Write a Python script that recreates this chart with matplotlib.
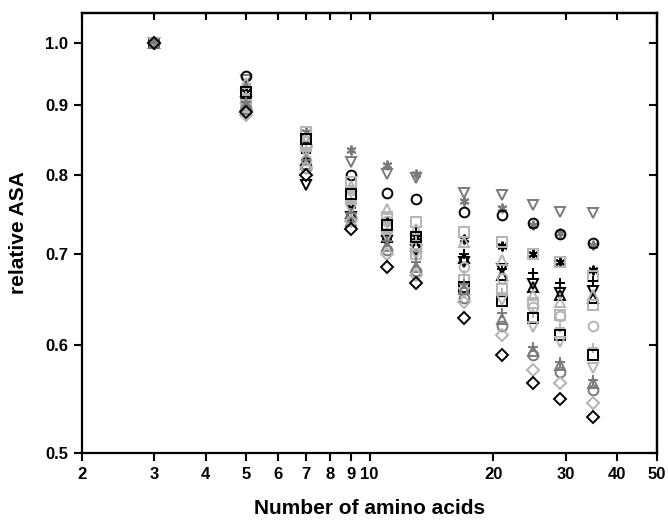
import matplotlib.pyplot as plt
import numpy as np
from matplotlib.ticker import FixedLocator, NullLocator, FixedFormatter

plt.rcParams['font.family'] = ['Liberation Sans', 'DejaVu Sans']

# peptide lengths
n_aa = [3, 5, 7, 9, 11, 13, 17, 21, 25, 29, 35]

black = '#000000'
dark = '#7a7a7a'
light = '#b4b4b4'
asterisk = (6, 2, 0)

# (marker, colour, relative ASA values at each length)
series = [
    ('v', dark,  [1.0, 0.940, 0.850, 0.818, 0.802, 0.796, 0.776, 0.773, 0.760, 0.751, 0.750]),
    (asterisk, dark, [1.0, 0.930, 0.860, 0.834, 0.813, 0.802, 0.765, 0.757, 0.735, 0.725, 0.711]),
    ('o', black, [1.0, 0.945, 0.840, 0.800, 0.776, 0.768, 0.751, 0.748, 0.738, 0.724, 0.713]),
    (asterisk, black, [1.0, 0.920, 0.820, 0.760, 0.740, 0.720, 0.718, 0.710, 0.700, 0.690, 0.681]),
    ('s', light, [1.0, 0.910, 0.860, 0.790, 0.745, 0.739, 0.726, 0.714, 0.700, 0.690, 0.674]),
    ('+', black, [1.0, 0.910, 0.830, 0.760, 0.725, 0.726, 0.700, 0.683, 0.678, 0.666, 0.669]),
    ('^', black, [1.0, 0.900, 0.820, 0.750, 0.720, 0.710, 0.695, 0.676, 0.662, 0.653, 0.650]),
    ('v', black, [1.0, 0.905, 0.787, 0.745, 0.715, 0.705, 0.690, 0.683, 0.665, 0.655, 0.657]),
    ('^', light, [1.0, 0.935, 0.850, 0.785, 0.755, 0.730, 0.714, 0.693, 0.653, 0.645, 0.653]),
    ('o', light, [1.0, 0.895, 0.820, 0.780, 0.740, 0.710, 0.685, 0.672, 0.640, 0.630, 0.620]),
    ('s', light, [1.0, 0.900, 0.840, 0.770, 0.730, 0.700, 0.670, 0.660, 0.644, 0.631, 0.642]),
    ('+', light, [1.0, 0.915, 0.835, 0.765, 0.730, 0.715, 0.676, 0.655, 0.634, 0.618, 0.597]),
    ('s', black, [1.0, 0.920, 0.850, 0.775, 0.735, 0.720, 0.662, 0.646, 0.628, 0.610, 0.590]),
    ('v', light, [1.0, 0.895, 0.830, 0.755, 0.720, 0.700, 0.655, 0.648, 0.619, 0.603, 0.577]),
    ('+', dark,  [1.0, 0.905, 0.820, 0.750, 0.715, 0.690, 0.665, 0.633, 0.598, 0.583, 0.566]),
    ('^', dark,  [1.0, 0.900, 0.815, 0.740, 0.710, 0.685, 0.660, 0.627, 0.594, 0.580, 0.563]),
    ('o', dark,  [1.0, 0.895, 0.810, 0.745, 0.705, 0.680, 0.650, 0.620, 0.590, 0.573, 0.556]),
    ('D', light, [1.0, 0.885, 0.810, 0.740, 0.700, 0.675, 0.645, 0.610, 0.575, 0.563, 0.544]),
    ('D', black, [1.0, 0.890, 0.800, 0.730, 0.685, 0.666, 0.628, 0.590, 0.563, 0.548, 0.531]),
]

x_ticks = [2, 3, 4, 5, 6, 7, 8, 9, 10, 20, 30, 40, 50]
y_ticks = [0.5, 0.6, 0.7, 0.8, 0.9, 1.0]

fig = plt.figure(figsize=(6.68, 5.21), dpi=100)
ax = fig.add_axes([0.1228, 0.1305, 0.8607, 0.8445])

for marker, color, vals in series:
    ms = 6 if marker == 'D' else 7
    ax.plot(n_aa, vals, linestyle='none', marker=marker, markersize=ms,
            markerfacecolor='none', markeredgecolor=color, markeredgewidth=1.4)

ax.set_xscale('log')
ax.set_yscale('log')
ax.set_xlim(2, 50)
ax.set_ylim(0.5, 1.052)

ax.xaxis.set_major_locator(FixedLocator(x_ticks))
ax.xaxis.set_major_formatter(FixedFormatter([str(t) for t in x_ticks]))
ax.xaxis.set_minor_locator(NullLocator())
ax.yaxis.set_major_locator(FixedLocator(y_ticks))
ax.yaxis.set_major_formatter(FixedFormatter([f'{t:.1f}' for t in y_ticks]))
ax.yaxis.set_minor_locator(NullLocator())

ax.tick_params(direction='out', length=6, width=1.5, labelsize=12, pad=4)
for lbl in ax.get_xticklabels() + ax.get_yticklabels():
    lbl.set_fontweight('bold')

# inward mirror ticks on top and right
top = ax.secondary_xaxis('top')
top.xaxis.set_major_locator(FixedLocator(x_ticks))
top.xaxis.set_minor_locator(NullLocator())
top.tick_params(direction='in', length=5, width=1.5, labeltop=False)
right = ax.secondary_yaxis('right')
right.yaxis.set_major_locator(FixedLocator(y_ticks))
right.yaxis.set_minor_locator(NullLocator())
right.tick_params(direction='in', length=6, width=1.5, labelright=False)
for s in list(ax.spines.values()) + [top.spines['top'], right.spines['right']]:
    s.set_linewidth(1.6)

ax.set_xlabel('Number of amino acids', fontsize=15, fontweight='bold', labelpad=12)
ax.set_ylabel('relative ASA', fontsize=15, fontweight='bold', labelpad=12)

fig.savefig('out.png', dpi=100)
